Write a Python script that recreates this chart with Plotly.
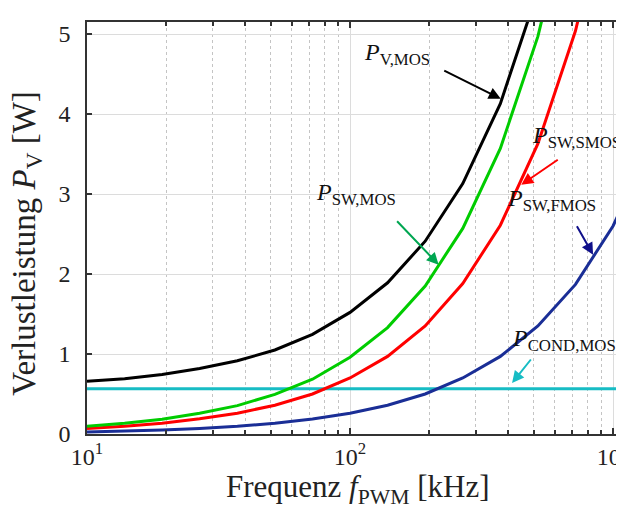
import plotly.graph_objects as go

# Data (frequency in kHz, losses in W)
freq_khz = [10, 13.9, 19.3, 26.8, 37.3, 51.8, 72.0, 100, 138.9, 193.1, 268.3, 372.8, 517.9, 719.7, 1000, 1389]
p_v_mos = [0.66, 0.69, 0.745, 0.82, 0.915, 1.05, 1.245, 1.52, 1.89, 2.41, 3.13, 4.13, 5.54, 7.47, 10.2, 13.9]
p_sw_mos = [0.096, 0.133, 0.185, 0.26, 0.355, 0.495, 0.685, 0.96, 1.33, 1.85, 2.57, 3.57, 4.97, 6.91, 9.6, 13.3]
p_sw_smos = [0.07, 0.097, 0.135, 0.19, 0.26, 0.36, 0.50, 0.70, 0.97, 1.35, 1.88, 2.61, 3.63, 5.04, 7.0, 9.7]
p_sw_fmos = [0.026, 0.036, 0.05, 0.07, 0.097, 0.135, 0.187, 0.26, 0.36, 0.50, 0.70, 0.97, 1.35, 1.87, 2.60, 3.61]
p_cond_mos = [0.565] * len(freq_khz)

x_tick_vals = [10, 100, 1000]
x_tick_text = ["10<sup>1</sup>", "10<sup>2</sup>", "10<sup>3</sup>"]
x_minor_vals = [20, 30, 40, 50, 60, 70, 80, 90, 200, 300, 400, 500, 600, 700, 800, 900]
y_ticks = [0, 1, 2, 3, 4, 5]

FONT = "Liberation Serif"

fig = go.Figure()
series = [
    (p_cond_mos, "#17bcc4"),
    (p_sw_fmos, "#1a2e96"),
    (p_sw_smos, "#ff0000"),
    (p_sw_mos, "#00cc00"),
    (p_v_mos, "#000000"),
]
for vals, col in series:
    fig.add_trace(go.Scatter(x=freq_khz, y=vals, mode="lines",
                             line=dict(color=col, width=3), showlegend=False))

# invisible trace to activate the right-side tick axis
fig.add_trace(go.Scatter(x=[freq_khz[0]], y=[0], yaxis="y2", mode="markers",
                         marker=dict(opacity=0), showlegend=False, hoverinfo="skip"))

axis_line = "#333333"
fig.update_layout(
    width=624, height=516,
    margin=dict(l=79, r=0, t=14, b=90),
    paper_bgcolor="white", plot_bgcolor="white",
    font=dict(family=FONT, size=24, color="#222222"),
    xaxis=dict(
        type="log", range=[1, 3.072], tickmode="array",
        tickvals=x_tick_vals, ticktext=x_tick_text,
        showline=True, linecolor=axis_line, linewidth=1.5, mirror="ticks",
        ticks="inside", ticklen=6, tickcolor=axis_line, tickwidth=1.5,
        showgrid=True, gridcolor="#dcdcdc", gridwidth=1,
        minor=dict(ticks="inside", ticklen=4, tickcolor=axis_line,
                   tickmode="array", tickvals=x_minor_vals,
                   showgrid=True, gridcolor="#c4c4c4", griddash="dot", gridwidth=1),
        tickfont=dict(family=FONT, size=24),
        ticklabelstandoff=0, ticklabeloverflow="allow",
        zeroline=False,
    ),
    yaxis=dict(
        range=[0, 5.15], tickvals=y_ticks, ticktext=[str(v) for v in y_ticks],
        showline=True, linecolor=axis_line, linewidth=1.5, mirror=False,
        ticks="inside", ticklen=5, tickcolor=axis_line, tickwidth=1.5,
        showgrid=True, gridcolor="#dcdcdc", gridwidth=1,
        tickfont=dict(family=FONT, size=24), ticklabelstandoff=10,
        zeroline=False,
    ),
    yaxis2=dict(
        overlaying="y", side="right", range=[0, 5.15], tickvals=y_ticks,
        showticklabels=False, showline=False, showgrid=False, zeroline=False,
        ticks="inside", ticklen=5, tickcolor=axis_line, tickwidth=1.5,
    ),
)

# axis titles
fig.add_annotation(text="Frequenz <i>f</i><sub>PWM</sub> [kHz]", xref="paper", yref="paper",
                   x=0.497, y=-0.081, xanchor="center", yanchor="top", showarrow=False,
                   font=dict(family=FONT, size=31, color="#222222"))
fig.add_annotation(text="Verlustleistung <i>P</i><sub>V</sub> [W]", xref="paper", yref="paper",
                   x=-0.110, y=0.462, xanchor="center", yanchor="middle", showarrow=False,
                   textangle=-90, font=dict(family=FONT, size=33, color="#222222"))

def label(x, y, text):
    fig.add_annotation(x=x, y=y, xref="x", yref="y", text=text, showarrow=False,
                       xanchor="left", yanchor="middle",
                       font=dict(family=FONT, size=24, color="#111111"))

def arrow(x, y, ax, ay, col):
    fig.add_annotation(x=x, y=y, xref="x", yref="y", text="", showarrow=True,
                       ax=ax, ay=ay, arrowhead=2, arrowsize=1.2, arrowwidth=2,
                       arrowcolor=col, standoff=0)

label(2.045, 4.75, "<i>P</i><sub>V,MOS</sub>")
arrow(2.573, 4.19, -58, -29, "#000000")

label(1.862, 3.00, "<i>P</i><sub>SW,MOS</sub>")
arrow(2.337, 2.116, -43, -45, "#00a651")

label(2.685, 3.715, "<i>P</i><sub>SW,SMOS</sub>")
arrow(2.651, 3.116, 38, -26, "#ff0000")

label(2.590, 2.93, "<i>P</i><sub>SW,FMOS</sub>")
arrow(2.924, 2.24, -17, -30, "#10108a")

label(2.609, 1.17, "<i>P</i><sub>COND,MOS</sub>")
arrow(2.616, 0.6375, 20, -25, "#17bcc4")

fig.write_html("out.html")
